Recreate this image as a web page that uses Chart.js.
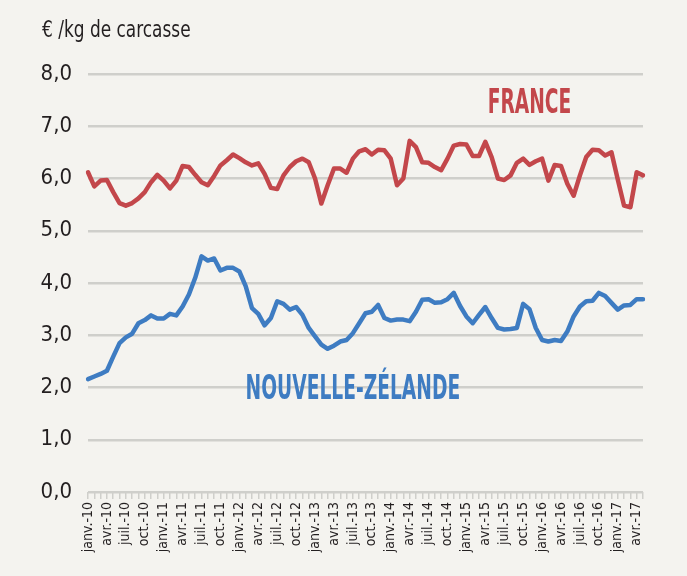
<!DOCTYPE html>
<html>
<head>
<meta charset="utf-8">
<script src="https://cdn.jsdelivr.net/npm/chart.js@4"></script>
<style>
  html, body { margin: 0; padding: 0; background: #f4f3ef; }
  #wrap { width: 687px; height: 576px; }
</style>
</head>
<body>
<div id="wrap"><canvas id="myChart" width="687" height="576"></canvas></div>
<script>
// month names and years used to build the category labels
const monthNames = ['janv.', 'févr.', 'mars', 'avr.', 'mai', 'juin', 'juil.', 'août', 'sept.', 'oct.', 'nov.', 'déc.'];
const years = ['10', '11', '12', '13', '14', '15', '16', '17'];
const lastMonthOf2017 = 5; // series stops at mai-17

// prices in €/kg de carcasse, monthly from janv.-10
const france = [
  6.12, 5.85, 5.96, 5.97, 5.74, 5.53, 5.48, 5.53, 5.62, 5.74,
  5.93, 6.07, 5.96, 5.81, 5.96, 6.24, 6.22, 6.07, 5.93, 5.87,
  6.05, 6.25, 6.35, 6.46, 6.39, 6.31, 6.25, 6.29, 6.09, 5.82,
  5.80, 6.06, 6.22, 6.33, 6.38, 6.31, 6.00, 5.52, 5.87, 6.19,
  6.19, 6.11, 6.38, 6.52, 6.56, 6.46, 6.55, 6.54, 6.38, 5.87,
  6.00, 6.72, 6.60, 6.31, 6.30, 6.22, 6.16, 6.38, 6.63, 6.66,
  6.65, 6.43, 6.43, 6.70, 6.41, 6.00, 5.97, 6.06, 6.30, 6.38,
  6.26, 6.33, 6.38, 5.96, 6.26, 6.24, 5.90, 5.67, 6.06, 6.41,
  6.55, 6.54, 6.44, 6.50, 5.98, 5.48, 5.45, 6.12, 6.06
];
const nouvelleZelande = [
  2.16, 2.21, 2.26, 2.32, 2.59, 2.85, 2.96, 3.03, 3.23, 3.29,
  3.38, 3.32, 3.32, 3.41, 3.38, 3.55, 3.78, 4.10, 4.51, 4.43,
  4.47, 4.24, 4.29, 4.29, 4.22, 3.94, 3.52, 3.41, 3.19, 3.33,
  3.65, 3.60, 3.49, 3.54, 3.39, 3.14, 2.98, 2.82, 2.74, 2.80,
  2.88, 2.91, 3.04, 3.23, 3.42, 3.45, 3.58, 3.33, 3.28, 3.30,
  3.30, 3.27, 3.45, 3.68, 3.69, 3.62, 3.63, 3.69, 3.81, 3.56,
  3.36, 3.23, 3.39, 3.54, 3.33, 3.14, 3.11, 3.12, 3.14, 3.60,
  3.50, 3.14, 2.91, 2.88, 2.91, 2.89, 3.07, 3.36, 3.55, 3.65,
  3.66, 3.81, 3.75, 3.62, 3.49, 3.57, 3.58, 3.69, 3.69
];

const labels = [];
years.forEach((yr) => {
  const n = yr === '17' ? lastMonthOf2017 : 12;
  for (let m = 0; m < n; m++) labels.push(monthNames[m] + '-' + yr);
});

const ink = '#231f20';
const red = '#c3474b';
const blue = '#3e7cc2';
const gridColor = '#cfcfcb';
const condensed = "'DejaVu Sans Condensed', 'Liberation Sans Narrow', sans-serif";

// title and series names
const chartTexts = {
  id: 'chartTexts',
  afterDatasetsDraw(chart) {
    const { ctx, scales: { x, y } } = chart;
    ctx.save();
    ctx.translate(42, 37);
    ctx.scale(0.82, 1);
    ctx.fillStyle = ink;
    ctx.font = '23px ' + condensed;
    ctx.textAlign = 'left';
    ctx.textBaseline = 'alphabetic';
    ctx.fillText('€ /kg de carcasse', 0, 0);
    ctx.restore();

    const drawName = (text, color, idx, val) => {
      ctx.save();
      ctx.translate(x.getPixelForValue(idx), y.getPixelForValue(val));
      ctx.scale(0.61, 1);
      ctx.font = 'bold 34px ' + condensed;
      ctx.fillStyle = color;
      ctx.textAlign = 'center';
      ctx.textBaseline = 'middle';
      ctx.fillText(text, 0, 0);
      ctx.restore();
    };
    drawName('FRANCE', red, 70, 7.43);
    drawName('NOUVELLE-ZÉLANDE', blue, 42, 1.95);
  }
};

const ctx = document.getElementById('myChart').getContext('2d');

new Chart(ctx, {
  type: 'line',
  data: {
    labels: labels,
    datasets: [
      {
        label: 'FRANCE',
        data: france,
        borderColor: red,
        borderWidth: 4.5,
        pointRadius: 0,
        borderJoinStyle: 'round',
        borderCapStyle: 'round',
        tension: 0,
      },
      {
        label: 'NOUVELLE-ZÉLANDE',
        data: nouvelleZelande,
        borderColor: blue,
        borderWidth: 4.5,
        pointRadius: 0,
        borderJoinStyle: 'round',
        borderCapStyle: 'round',
        tension: 0,
      },
    ],
  },
  options: {
    responsive: false,
    animation: false,
    layout: { padding: { top: 74, right: 44, left: 0, bottom: 0 } },
    plugins: {
      legend: { display: false },
      tooltip: { enabled: false },
    },
    scales: {
      x: {
        afterFit: (scale) => { scale.height = 84; },
        border: { display: false },
        grid: {
          drawOnChartArea: false,
          drawTicks: true,
          tickLength: 7,
          color: gridColor,
          lineWidth: 1.5,
        },
        ticks: {
          autoSkip: false,
          minRotation: 90,
          maxRotation: 90,
          padding: 3,
          color: ink,
          font: { family: condensed, size: 14 },
          callback: (val, i) => (i % 3 === 0 ? labels[i] : ''),
        },
      },
      y: {
        min: 0,
        max: 8,
        afterFit: (scale) => { scale.width = 88; },
        border: { display: false },
        grid: { color: gridColor, lineWidth: 2.5, drawTicks: false },
        ticks: {
          stepSize: 1,
          padding: 16,
          color: ink,
          font: { family: condensed, size: 22 },
          callback: (v) => v.toFixed(1).replace('.', ','),
        },
      },
    },
  },
  plugins: [chartTexts],
});
</script>
</body>
</html>
